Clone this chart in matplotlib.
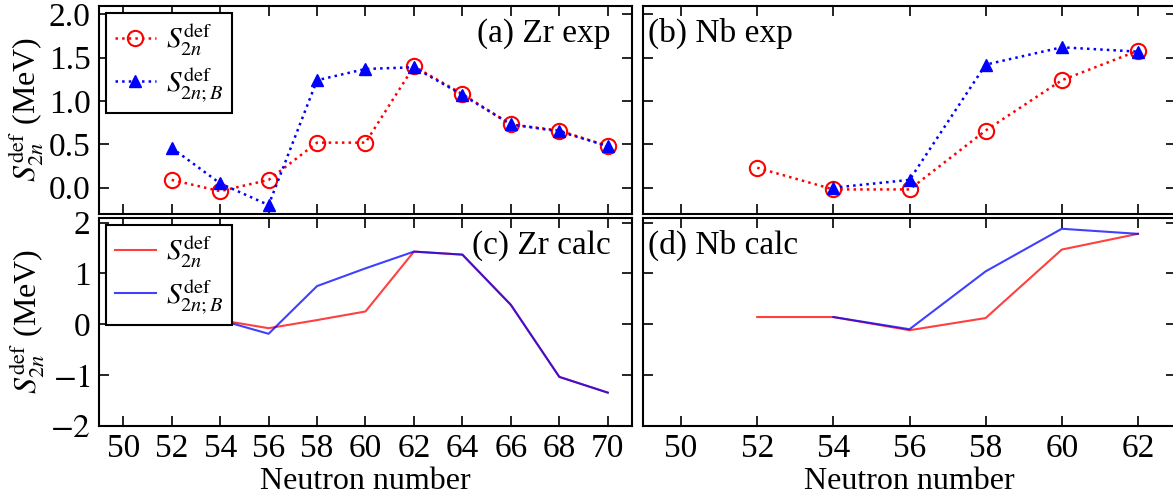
import matplotlib
matplotlib.use("Agg")
import matplotlib.pyplot as plt

plt.rcParams['font.family'] = ['Liberation Serif', 'DejaVu Serif']
plt.rcParams['mathtext.fontset'] = 'stix'

# ---------------- data ----------------
zr_n = [52, 54, 56, 58, 60, 62, 64, 66, 68, 70]
zr_exp_s2n = [0.09, -0.04, 0.09, 0.52, 0.52, 1.40, 1.08, 0.73, 0.66, 0.48]
zr_exp_s2nB = [0.46, 0.05, -0.20, 1.24, 1.37, 1.39, 1.07, 0.73, 0.65, 0.48]

nb_n = [52, 54, 56, 58, 60, 62]
nb_exp_s2n = [0.23, -0.02, -0.02, 0.66, 1.24, 1.58]
nb_exp_s2nB_n = [54, 56, 58, 60, 62]
nb_exp_s2nB = [0.00, 0.09, 1.42, 1.62, 1.57]

zr_calc_s2n = [0.08, 0.08, -0.08, 0.08, 0.25, 1.43, 1.37, 0.38, -1.04, -1.35]
zr_calc_s2nB_n = [54, 56, 58, 60, 62, 64, 66, 68, 70]
zr_calc_s2nB = [0.08, -0.19, 0.75, 1.10, 1.43, 1.37, 0.38, -1.04, -1.35]

nb_calc_s2n = [0.14, 0.14, -0.12, 0.12, 1.47, 1.78]
nb_calc_s2nB_n = [54, 56, 58, 60, 62]
nb_calc_s2nB = [0.14, -0.10, 1.04, 1.88, 1.78]

panel_labels = ["(a) Zr exp", "(b) Nb exp", "(c) Zr calc", "(d) Nb calc"]
xticks = [50, 52, 54, 56, 58, 60, 62, 64, 66, 68, 70]
top_yticks = [0.0, 0.5, 1.0, 1.5, 2.0]
bot_yticks = [-2, -1, 0, 1, 2]

lab_s2n = r"$S_{2n}^{\mathrm{def}}$"
lab_s2nB = r"$S_{2n;B}^{\mathrm{def}}$"
ylab = r"$S_{2n}^{\mathrm{def}}$ (MeV)"

TICK_FS = 24
LAB_FS = 23
PANEL_FS = 24
LEG_FS = 21

W, H = 11.73, 4.98
fig = plt.figure(figsize=(W, H), dpi=100)

lw_px = 1173.0
lh_px = 498.0
colL = (99 / lw_px, 533 / lw_px)
colR = (643 / lw_px, 533 / lw_px)
rowT = (1 - 213.7 / lh_px, 208 / lh_px)
rowB = (1 - 425.6 / lh_px, 208 / lh_px)

axa = fig.add_axes([colL[0], rowT[0], colL[1], rowT[1]])
axb = fig.add_axes([colR[0], rowT[0], colR[1], rowT[1]])
axc = fig.add_axes([colL[0], rowB[0], colL[1], rowB[1]])
axd = fig.add_axes([colR[0], rowB[0], colR[1], rowB[1]])

def style(ax):
    for s in ax.spines.values():
        s.set_linewidth(1.5)
    ax.tick_params(direction='in', top=True, right=True, length=7, width=1.2,
                   labelsize=TICK_FS, pad=6)

# exp panels
for ax in (axa, axb):
    style(ax)
    ax.set_ylim(-0.3, 2.1)
    ax.set_yticks(top_yticks)
    ax.set_xticks(xticks)
    ax.tick_params(labelbottom=False)

axa.plot(zr_n, zr_exp_s2n, ':', color='red', lw=1.8, marker='o', ms=11,
         mfc='none', mec='red', mew=1.5, label=lab_s2n)
axa.plot(zr_n, zr_exp_s2nB, ':', color='blue', lw=1.8, marker='^', ms=9,
         mfc='blue', mec='blue', label=lab_s2nB)
axb.plot(nb_n, nb_exp_s2n, ':', color='red', lw=1.8, marker='o', ms=11,
         mfc='none', mec='red', mew=1.5)
axb.plot(nb_exp_s2nB_n, nb_exp_s2nB, ':', color='blue', lw=1.8, marker='^', ms=9,
         mfc='blue', mec='blue')

# calc panels
for ax in (axc, axd):
    style(ax)
    ax.set_ylim(-2, 2.1)
    ax.set_yticks(bot_yticks)
    ax.set_yticklabels([r"$-2$", r"$-1$", "0", "1", "2"])
    ax.set_xticks(xticks)

axc.plot(zr_n, zr_calc_s2n, '-', color='red', lw=1.5, alpha=0.75, label=lab_s2n)
axc.plot(zr_calc_s2nB_n, zr_calc_s2nB, '-', color='blue', lw=1.5, alpha=0.75, label=lab_s2nB)
axd.plot(nb_n, nb_calc_s2n, '-', color='red', lw=1.5, alpha=0.75)
axd.plot(nb_calc_s2nB_n, nb_calc_s2nB, '-', color='blue', lw=1.5, alpha=0.75)

axa.set_xlim(49, 71)
axc.set_xlim(49, 71)
axb.set_xlim(49, 63)
axd.set_xlim(49, 63)

for ax in (axb, axd):
    ax.tick_params(labelleft=False)

axa.set_ylabel(ylab, fontsize=LAB_FS, labelpad=2)
axc.set_ylabel(ylab, fontsize=LAB_FS, labelpad=2)
axc.set_xlabel("Neutron number", fontsize=LAB_FS, labelpad=2)
axd.set_xlabel("Neutron number", fontsize=LAB_FS, labelpad=2)

for ax, lab, right in ((axa, panel_labels[0], True), (axb, panel_labels[1], False),
                       (axc, panel_labels[2], True), (axd, panel_labels[3], False)):
    if right:
        ax.text(0.96, 0.94, lab, transform=ax.transAxes, ha='right', va='top', fontsize=PANEL_FS)
    else:
        ax.text(0.01, 0.94, lab, transform=ax.transAxes, ha='left', va='top', fontsize=PANEL_FS)

for ax in (axa, axc):
    leg = ax.legend(loc='upper left', fontsize=LEG_FS, fancybox=False, framealpha=1,
                    edgecolor='black', borderaxespad=0.25, handlelength=1.4,
                    handletextpad=0.35, borderpad=0.3, labelspacing=0.25)
    leg.get_frame().set_linewidth(1.5)

fig.savefig("out.png", dpi=100)
